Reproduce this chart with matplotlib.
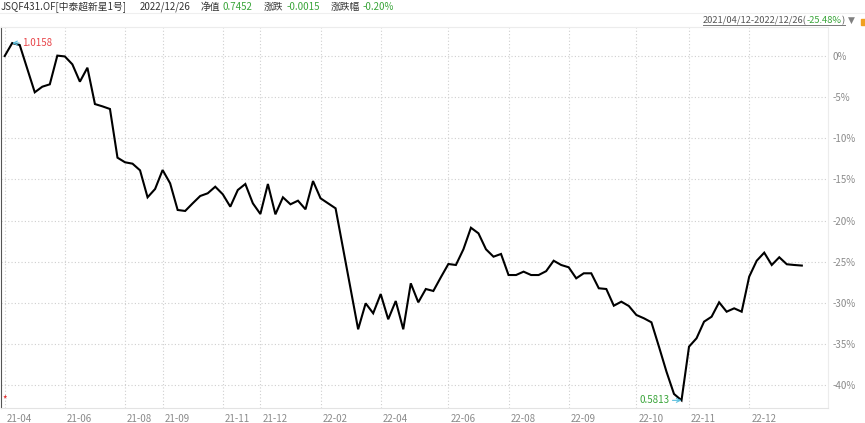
import matplotlib
matplotlib.use('Agg')
import matplotlib.pyplot as plt
from matplotlib.transforms import ScaledTranslation
from matplotlib.lines import Line2D
import numpy as np

plt.rcParams['font.family'] = ['Noto Sans CJK SC', 'DejaVu Sans']

# ---------------- data ----------------
fund_code = "JSQF431.OF[中泰超新星1号]"
last_date = "2022/12/26"
last_nav = 0.7452
last_change = -0.0015
last_change_pct = -0.20
range_text = "2021/04/12-2022/12/26"
range_return = -25.48

# cumulative return in percent (start NAV = 1.0)
cum_return = [
    0.00, 1.58, 1.34, -1.54, -4.41, -3.73, -3.44, 0.05, -0.05, -1.01,
    -3.12, -1.42, -5.84, -6.12, -6.44, -12.36, -12.92, -13.09, -13.90, -17.18,
    -16.17, -13.86, -15.48, -18.72, -18.84, -17.91, -17.02, -16.69, -15.89, -16.81,
    -18.32, -16.29, -15.56, -17.91, -19.21, -15.56, -19.25, -17.18, -18.03, -17.59,
    -18.64, -15.20, -17.30, -17.91, -18.52, -23.42, -28.32, -33.23, -30.07, -31.28,
    -28.94, -32.01, -29.79, -33.23, -27.64, -29.95, -28.33, -28.57, -26.90, -25.29,
    -25.41, -23.50, -20.88, -21.56, -23.50, -24.40, -24.07, -26.63, -26.63, -26.22,
    -26.63, -26.63, -26.16, -24.89, -25.41, -25.69, -27.03, -26.42, -26.42, -28.24,
    -28.33, -30.36, -29.87, -30.40, -31.49, -31.89, -32.38, -35.34, -38.38, -41.09,
    -41.87, -35.34, -34.32, -32.30, -31.70, -29.95, -31.09, -30.68, -31.09, -26.83,
    -24.89, -23.91, -25.41, -24.47, -25.32, -25.41, -25.48,
]

tick_idx = [0, 8, 16, 21, 29, 34, 42, 50, 59, 67, 75, 84, 91, 99]
tick_labels = ["21-04", "21-06", "21-08", "21-09", "21-11", "21-12", "22-02",
               "22-04", "22-06", "22-08", "22-09", "22-10", "22-11", "22-12"]
y_ticks = [0, -5, -10, -15, -20, -25, -30, -35, -40]

# ---------------- figure ----------------
W, H = 865, 423
fig = plt.figure(figsize=(W / 100, H / 100), dpi=100)
fig.patch.set_facecolor('white')

def fx(px):
    return px / W

def fy(py):
    return 1 - py / H

ax_l, ax_r, ax_t, ax_b = 1, 828, 27, 408
ax = fig.add_axes([fx(ax_l), fy(ax_b), fx(ax_r - ax_l), (ax_b - ax_t) / H])

x = np.arange(len(cum_return))
y = np.array(cum_return)
ax.plot(x, y, color='black', lw=1.5, solid_joinstyle='miter', zorder=3)

ax.set_xlim(-0.49, 109.48)
ax.set_ylim(-42.80, 3.53)

grid_c = '#cfcfcf'
ax.set_xticks(tick_idx)
ax.set_xticklabels(tick_labels, ha='left')
ax.set_yticks(y_ticks)
ax.set_yticklabels([f"{v}%" for v in y_ticks], ha='left')
ax.yaxis.tick_right()
ax.tick_params(axis='both', length=0, labelsize=7, colors='#8a8a8a')
ax.tick_params(axis='x', pad=4)
ax.tick_params(axis='y', pad=3)
off = ScaledTranslation(2 / 100, 0, fig.dpi_scale_trans)
for lab in ax.get_xticklabels():
    lab.set_transform(lab.get_transform() + off)
ax.grid(True, color=grid_c, lw=0.8, linestyle=(0, (1, 2)))

for side, spine in ax.spines.items():
    spine.set_linewidth(0.8)
ax.spines['left'].set_color('#555555')
ax.spines['bottom'].set_color('#e3e3e3')
ax.spines['top'].set_color('#ececec')
ax.spines['right'].set_color('#ececec')

# max / min annotations
nav = 1 + y / 100
imax, imin = int(np.argmax(y)), int(np.argmin(y))
arrow_c = '#5bc0de'
ax.annotate(f"{nav[imax]:.4f}", xy=(imax, y[imax]), xytext=(7, 0),
            textcoords='offset points', ha='left', va='center',
            fontsize=7, color='#e8454a',
            arrowprops=dict(arrowstyle='->', color=arrow_c, lw=0.8,
                            shrinkA=0, shrinkB=0))
ax.annotate(f"{nav[imin]:.4f}", xy=(imin, y[imin]), xytext=(-8.5, 0),
            textcoords='offset points', ha='right', va='center',
            fontsize=7, color='#3aa53a',
            arrowprops=dict(arrowstyle='->', color=arrow_c, lw=0.8,
                            shrinkA=0, shrinkB=0))

# red asterisk
fig.text(fx(2.5), fy(399), '*', color='#e02020', fontsize=7, ha='left', va='center')

# ---------------- header ----------------
dark = '#333333'
green = '#3aa53a'
renderer = fig.canvas.get_renderer()

def place_row(pieces, x0_px, y_px, fs, align='left'):
    """pieces: list of (text, color, gap_before_px). Lays out sequentially."""
    arts = []
    for txt, col, gap in pieces:
        t = fig.text(0, fy(y_px), txt, color=col, fontsize=fs, va='center', ha='left')
        arts.append((t, gap))
    widths = [t.get_window_extent(renderer).width for t, _ in arts]
    total = sum(widths) + sum(g for _, g in arts)
    xcur = x0_px if align == 'left' else x0_px - total
    start = xcur
    for (t, gap), w in zip(arts, widths):
        xcur += gap
        t.set_x(fx(xcur))
        xcur += w
    return start, xcur

fs = 7.0
place_row([
    (fund_code, dark, 0),
    (last_date, dark, 13),
    ("净值", dark, 10),
    (f"{last_nav:.4f}", green, 3),
    ("涨跌", dark, 11),
    (f"{last_change:.4f}", green, 3),
    ("涨跌幅", dark, 11),
    (f"{last_change_pct:.2f}%", green, 3),
], 0.5, 7, fs)

# header separator line
fig.add_artist(Line2D([0, 1], [fy(13.5), fy(13.5)], color='#efefef', lw=0.8))

# top-right range text (right aligned so that it ends before the triangle)
x_start, x_end = place_row([
    (range_text + "(", '#555555', 0),
    (f"{range_return:.2f}%", green, 0),
    (")", '#555555', 0),
], 845, 20.5, 6.7, align='right')
fig.add_artist(Line2D([fx(x_start), fx(x_end)], [fy(25.5), fy(25.5)],
                      color='#777777', lw=0.7))
fig.text(fx(851), fy(20.5), "▼", color='#808080', fontsize=6.5, va='center', ha='center',
         family=['DejaVu Sans'])
fig.patches.append(plt.Rectangle((fx(861), fy(25)), fx(5), 6 / H, color='#f0a020',
                                 transform=fig.transFigure, figure=fig))

fig.savefig('out.png', dpi=100)
